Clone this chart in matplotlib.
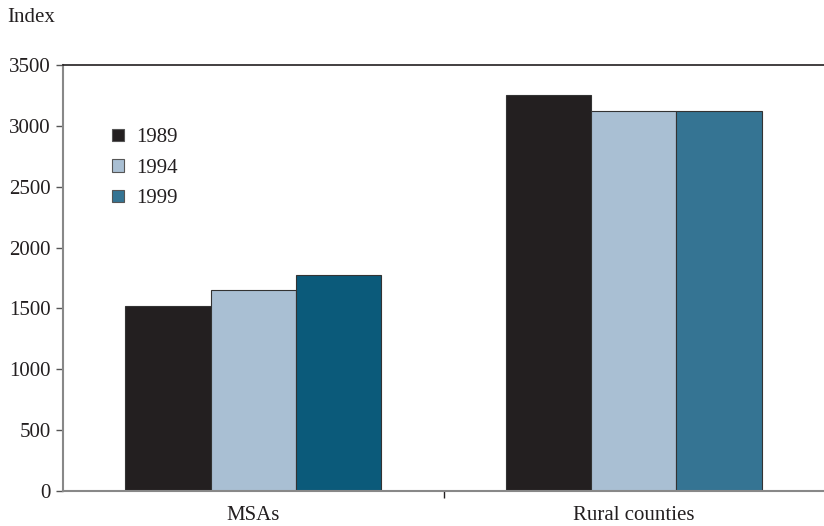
import matplotlib
matplotlib.use("Agg")
import matplotlib.pyplot as plt
import matplotlib.transforms as mtransforms
from matplotlib.patches import Patch

categories = ["MSAs", "Rural counties"]
years = ["1989", "1994", "1999"]
values_1989 = [1520, 3250]
values_1994 = [1652, 3125]
values_1999 = [1772, 3125]
y_ticks = [0, 500, 1000, 1500, 2000, 2500, 3000, 3500]

colors_1989 = ["#231f20", "#231f20"]
colors_1994 = ["#a9bfd3", "#a9bfd3"]
colors_1999 = ["#0b5a7a", "#357493"]

plt.rcParams["font.family"] = ["Liberation Serif", "DejaVu Serif"]
FS = 15

fig = plt.figure(figsize=(8.24, 5.26), dpi=100)
ax = fig.add_axes([63 / 824, 1 - 491 / 526, 761 / 824, 426 / 526])

width = 0.224
x = range(len(categories))
series = [(values_1989, colors_1989), (values_1994, colors_1994), (values_1999, colors_1999)]
for i, (vals, cols) in enumerate(series):
    pos = [xi + (i - 1) * width for xi in x]
    ax.bar(pos, vals, width=width, color=cols, edgecolor="#333333", linewidth=0.8, zorder=2)

ax.set_xlim(-0.5, 1.5)
ax.set_ylim(0, 3500)
ax.set_yticks(y_ticks)
ax.set_yticklabels([str(t) for t in y_ticks], fontsize=FS, color="#231f20")
ax.tick_params(axis="y", direction="out", length=5, width=1, color="#555555", pad=4)

# single separator tick between the two groups
ax.set_xticks([0.5])
ax.set_xticklabels([""])
ax.tick_params(axis="x", direction="out", length=5, width=1, color="#231f20")
label_tf = mtransforms.blended_transform_factory(ax.transData, fig.transFigure)
for xi, name in zip(x, categories):
    ax.text(xi, 1 - 516 / 526, name, transform=label_tf,
            ha="center", va="center", fontsize=FS, color="#231f20")

ax.spines["right"].set_visible(False)
ax.spines["top"].set_color("#231f20")
ax.spines["top"].set_linewidth(1.2)
ax.spines["left"].set_color("#888888")
ax.spines["left"].set_linewidth(1.5)
ax.spines["bottom"].set_color("#888888")
ax.spines["bottom"].set_linewidth(1.5)

handles = [Patch(facecolor=c, edgecolor="#555555", linewidth=0.8)
           for c in [colors_1989[0], colors_1994[0], colors_1999[1]]]
ax.legend(handles, years, loc="upper left", bbox_to_anchor=(0.04, 0.895), frameon=False,
          fontsize=FS, handlelength=0.55, handleheight=0.55, handletextpad=0.6,
          labelspacing=0.55, labelcolor="#231f20")

fig.text(7 / 824, 1 - 17 / 526, "Index", fontsize=FS, color="#231f20", va="center", ha="left")

fig.savefig("out.png", dpi=100)
